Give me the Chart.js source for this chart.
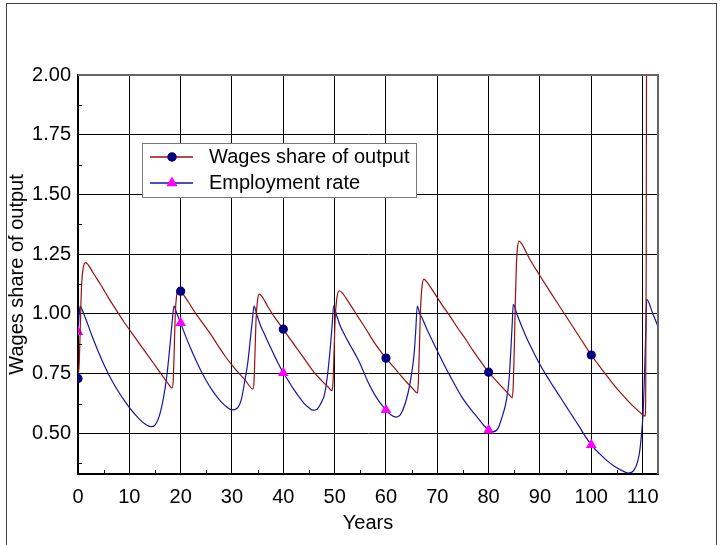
<!DOCTYPE html>
<html>
<head>
<meta charset="utf-8">
<script src="https://cdn.jsdelivr.net/npm/chart.js@4.4.0/dist/chart.umd.min.js"></script>
<style>
  html, body { margin: 0; padding: 0; background: #fff; }
  #wrap { position: relative; width: 722px; height: 545px; overflow: hidden; }
  #frame { position: absolute; left: 6px; top: 3px; width: 711px; height: 580px; border: 1px solid #444; box-sizing: border-box; }
  canvas { position: absolute; left: 0; top: 0; }
</style>
</head>
<body>
<div id="wrap">
  <div id="frame"></div>
  <canvas id="chart" width="722" height="545"></canvas>
</div>
<script>
// wages share of output (years / value)
const wageYears = [0, 0.25, 0.45, 0.7, 1.0, 1.5, 2.0, 3.0, 4.5, 6.0, 7.5, 9.0, 10.5, 12.0, 13.5, 15.0, 16.5, 17.5, 18.35, 18.55, 18.75, 18.95, 19.2, 19.5,
  20.0, 21.5, 23.0, 24.5, 26.0, 27.5, 28.6, 30.6, 32.5, 34.1, 34.3, 34.5, 34.7, 35.0, 35.3,
  35.8, 37.0, 38.5, 40.0, 41.5, 43.0, 44.5, 46.0, 47.5, 48.7, 49.5, 49.7, 49.9, 50.1, 50.4, 50.9,
  51.4, 53.0, 54.5, 56.0, 57.8, 60.0, 62.0, 64.0, 65.3, 66.1, 66.3, 66.5, 66.7, 67.0, 67.4,
  67.9, 69.5, 71.0, 72.5, 74.0, 75.5, 77.0, 78.5, 80.0, 81.5, 83.0, 84.0, 84.6, 84.8, 85.0, 85.2, 85.4, 85.6, 85.9,
  86.4, 88.0, 90.0, 92.0, 94.0, 96.0, 98.0, 100.0, 102.0, 104.0, 106.0, 108.0, 109.5, 110.5, 110.6, 110.7, 110.8];
const wageShare = [0.73, 0.80, 0.95, 1.12, 1.19, 1.215, 1.205, 1.17, 1.12, 1.065, 1.015, 0.965, 0.92, 0.875, 0.83, 0.785, 0.74, 0.71, 0.69, 0.72, 0.85, 1.00, 1.075, 1.10,
  1.095, 1.05, 1.00, 0.955, 0.91, 0.86, 0.825, 0.77, 0.725, 0.686, 0.72, 0.85, 0.98, 1.06, 1.083,
  1.075, 1.03, 0.98, 0.936, 0.89, 0.845, 0.80, 0.755, 0.72, 0.695, 0.679, 0.72, 0.85, 0.98, 1.06, 1.097,
  1.09, 1.04, 0.99, 0.94, 0.878, 0.815, 0.765, 0.715, 0.685, 0.669, 0.71, 0.85, 1.00, 1.11, 1.146,
  1.135, 1.085, 1.035, 0.99, 0.94, 0.895, 0.845, 0.80, 0.756, 0.72, 0.685, 0.662, 0.649, 0.70, 0.85, 1.05, 1.20, 1.27, 1.305,
  1.295, 1.23, 1.16, 1.092, 1.026, 0.96, 0.894, 0.828, 0.77, 0.714, 0.663, 0.617, 0.588, 0.572, 0.65, 1.2, 2.6];

// employment rate (years / value)
const empYears = [0, 0.2, 0.4, 0.8, 1.5, 2.66, 4.0, 5.0, 5.9, 7.5, 9.8, 11.5, 13.0, 14.2, 15.0, 15.8, 16.6, 17.3, 17.9, 18.4, 18.7, 19.2,
  20.0, 21.0, 22.0, 23.0, 24.0, 25.0, 26.0, 27.0, 28.0, 29.0, 30.0, 31.0, 31.8, 32.5, 33.1, 33.6, 34.0, 34.3,
  34.8, 35.5, 36.4, 37.5, 38.5, 40.0, 41.0, 42.0, 43.0, 44.0, 45.0, 45.8, 46.5, 47.3, 48.1, 48.7, 49.2, 49.5, 49.8,
  50.3, 51.0, 52.0, 53.0, 54.6, 55.5, 56.5, 57.8, 58.8, 60.0, 61.0, 62.0, 63.0, 64.3, 65.0, 65.5, 65.8, 66.1,
  66.6, 67.0, 68.0, 69.0, 70.2, 71.5, 73.0, 74.7, 76.0, 77.5, 79.0, 80.0, 80.9, 81.8, 82.5, 83.5, 84.0, 84.3, 84.6, 84.8,
  85.5, 86.5, 87.5, 89.0, 90.0, 91.0, 92.5, 94.0, 95.2, 96.5, 97.7, 99.0, 100.0, 101.6, 103.0, 104.5, 106.0, 107.2,
  108.3, 109.0, 109.4, 109.8, 110.1, 110.3, 110.5, 110.65, 110.8, 112.0, 113.0];
const empRate = [0.925, 0.99, 1.033, 1.018, 0.98, 0.912, 0.84, 0.79, 0.75, 0.688, 0.614, 0.57, 0.54, 0.528, 0.535, 0.57, 0.642, 0.74, 0.864, 0.98, 1.033, 1.005,
  0.962, 0.905, 0.853, 0.805, 0.76, 0.72, 0.685, 0.655, 0.63, 0.61, 0.598, 0.605, 0.64, 0.72, 0.80, 0.90, 0.98, 1.033,
  1.00, 0.955, 0.912, 0.86, 0.815, 0.753, 0.72, 0.685, 0.655, 0.627, 0.607, 0.597, 0.60, 0.625, 0.67, 0.76, 0.87, 0.95, 1.033,
  1.00, 0.955, 0.91, 0.87, 0.808, 0.765, 0.715, 0.662, 0.63, 0.598, 0.577, 0.568, 0.585, 0.669, 0.75, 0.836, 0.93, 1.033,
  1.00, 0.985, 0.935, 0.89, 0.836, 0.78, 0.72, 0.655, 0.615, 0.575, 0.535, 0.514, 0.507, 0.52, 0.56, 0.642, 0.73, 0.836, 0.96, 1.04,
  1.00, 0.945, 0.895, 0.829, 0.788, 0.751, 0.70, 0.65, 0.61, 0.567, 0.527, 0.482, 0.452, 0.415, 0.387, 0.362, 0.344, 0.334,
  0.345, 0.38, 0.42, 0.50, 0.586, 0.70, 0.836, 0.95, 1.061, 1.00, 0.947];

const markerYears = [0, 20, 40, 60, 80, 100];
const xTicks = [0, 10, 20, 30, 40, 50, 60, 70, 80, 90, 100, 110];
const yTicks = [0.50, 0.75, 1.00, 1.25, 1.50, 1.75, 2.00];
const xMinor = [5, 15, 25, 35, 45, 55, 65, 75, 85, 95, 105];
const yMinor = [0.375, 0.625, 0.875, 1.125, 1.375, 1.625, 1.875];

const FONT = "'Liberation Sans', Arial, sans-serif";

function pts(xs, ys) {
  return xs.map((x, i) => ({ x: x, y: ys[i] }));
}
function markerRadius(r) {
  return ctx => (ctx.raw && markerYears.includes(ctx.raw.x)) ? r : 0;
}

// inward minor ticks + top/right edge of plot box
const boxTicks = {
  id: 'boxTicks',
  afterDatasetsDraw(chart) {
    const { ctx, chartArea: a, scales: { x, y } } = chart;
    ctx.save();
    ctx.strokeStyle = '#000';
    ctx.lineWidth = 1;
    ctx.beginPath();
    xMinor.forEach(v => {
      const px = Math.round(x.getPixelForValue(v)) + 0.5;
      ctx.moveTo(px, a.bottom);
      ctx.lineTo(px, a.bottom - 4);
    });
    yMinor.forEach(v => {
      const py = Math.round(y.getPixelForValue(v)) + 0.5;
      ctx.moveTo(a.left, py);
      ctx.lineTo(a.left + 4, py);
    });
    ctx.stroke();
    ctx.strokeStyle = '#666';
    ctx.lineWidth = 2;
    ctx.beginPath();
    ctx.moveTo(a.left, a.top);
    ctx.lineTo(a.right, a.top);
    ctx.lineTo(a.right, a.bottom);
    ctx.stroke();
    ctx.restore();
  }
};

// legend box: line sample with marker in the middle
const legendBox = {
  id: 'legendBox',
  afterDraw(chart) {
    const c = chart.ctx;
    const bx = 142, by = 143, bw = 274, bh = 54;
    c.save();
    c.fillStyle = '#fff';
    c.fillRect(bx, by, bw, bh);
    c.strokeStyle = '#777';
    c.lineWidth = 1;
    c.strokeRect(bx + 0.5, by + 0.5, bw, bh);
    chart.data.datasets.forEach((ds, i) => {
      const yy = by + 14 + i * 26;
      c.strokeStyle = ds.borderColor;
      c.lineWidth = 1.5;
      c.beginPath();
      c.moveTo(bx + 8, yy);
      c.lineTo(bx + 51, yy);
      c.stroke();
      c.fillStyle = ds.pointBackgroundColor;
      c.strokeStyle = ds.pointBorderColor;
      Chart.helpers.drawPoint(c, { pointStyle: ds.pointStyle, radius: ds.legendRadius, borderWidth: 1, rotation: 0 }, bx + 30, yy);
      c.fillStyle = '#000';
      c.font = '20px ' + FONT;
      c.textBaseline = 'middle';
      c.textAlign = 'left';
      c.fillText(ds.label, bx + 67, yy);
    });
    c.restore();
  }
};

new Chart(document.getElementById('chart'), {
  type: 'line',
  data: {
    datasets: [{
      label: 'Wages share of output',
      data: pts(wageYears, wageShare),
      borderColor: '#9a1010',
      borderWidth: 1.2,
      pointStyle: 'circle',
      pointBackgroundColor: '#000080',
      pointBorderColor: '#000080',
      pointRadius: markerRadius(4),
      legendRadius: 4,
      cubicInterpolationMode: 'monotone',
      order: 1
    }, {
      label: 'Employment rate',
      data: pts(empYears, empRate),
      borderColor: '#1515a0',
      borderWidth: 1.2,
      pointStyle: 'triangle',
      pointBackgroundColor: '#ff00ff',
      pointBorderColor: '#ff00ff',
      pointRadius: markerRadius(5),
      legendRadius: 5,
      cubicInterpolationMode: 'monotone',
      order: 2
    }]
  },
  options: {
    responsive: false,
    animation: false,
    devicePixelRatio: 1,
    events: [],
    layout: { padding: { top: 75, right: 64, left: 0, bottom: 0 } },
    plugins: {
      legend: { display: false },
      tooltip: { enabled: false }
    },
    scales: {
      x: {
        type: 'linear',
        min: 0,
        max: 113,
        afterBuildTicks: s => { s.ticks = xTicks.map(v => ({ value: v })); },
        afterFit: s => { s.height = 71; },
        grid: { color: '#000', lineWidth: 1, drawTicks: false },
        border: { color: '#000', width: 2 },
        ticks: { color: '#000', font: { family: FONT, size: 20 }, padding: 11, maxRotation: 0, autoSkip: false },
        title: { display: true, text: 'Years', color: '#000', font: { family: FONT, size: 20 }, padding: { top: 0, bottom: 10 } }
      },
      y: {
        type: 'linear',
        min: 0.33,
        max: 2.0,
        afterBuildTicks: s => { s.ticks = yTicks.map(v => ({ value: v })); },
        afterFit: s => { s.width = 78; },
        grid: { color: '#000', lineWidth: 1, drawTicks: false },
        border: { color: '#000', width: 2 },
        ticks: { color: '#000', font: { family: FONT, size: 20 }, padding: 7, callback: v => v.toFixed(2) },
        title: { display: true, text: 'Wages share of output', color: '#000', font: { family: FONT, size: 20 }, padding: { top: 5, bottom: 0 } }
      }
    }
  },
  plugins: [boxTicks, legendBox]
});
</script>
</body>
</html>
